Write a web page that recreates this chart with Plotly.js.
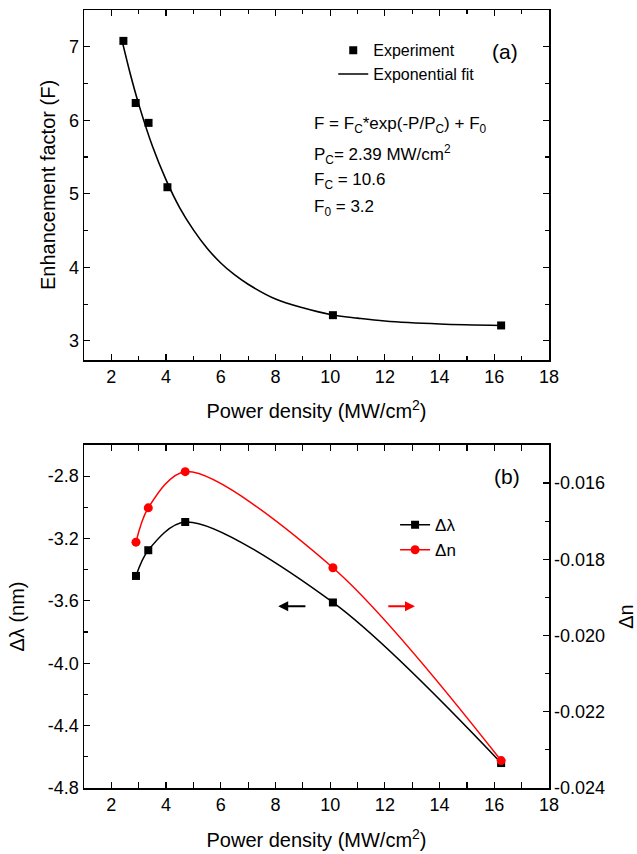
<!DOCTYPE html>
<html>
<head>
<meta charset="utf-8">
<script src="https://cdn.plot.ly/plotly-3.0.1.min.js"></script>
<style>html,body{margin:0;padding:0;background:#fff;}#chart{width:637px;height:854px;}</style>
</head>
<body>
<div id="chart"></div>
<script>
// Panel (a): experiment
const expP = [2.44, 2.89, 3.36, 4.05, 10.1, 16.25];
const expF = [7.08, 6.235, 5.965, 5.09, 3.35, 3.21];
// Panel (a): exponential fit curve
const fitP = [2.4, 2.7, 3, 3.5, 4, 4.5, 5, 5.5, 6, 6.5, 7, 8, 9, 10, 11, 12, 14, 16.25];
const fitF = [7.07, 6.62, 6.22, 5.65, 5.19, 4.81, 4.51, 4.26, 4.06, 3.90, 3.77, 3.57, 3.45, 3.36, 3.31, 3.27, 3.23, 3.21];
// Panel (b)
const bP = [2.9, 3.35, 4.7, 10.1, 16.25];
const dLambda = [-3.44, -3.275, -3.094, -3.61, -4.64];
const dN = [-0.01755, -0.01665, -0.0157, -0.01822, -0.02328];
// Tick labels
const xTicks = [2, 4, 6, 8, 10, 12, 14, 16, 18];
const xTickText = ['2', '4', '6', '8', '10', '12', '14', '16', '18'];
const fTicks = [3, 4, 5, 6, 7];
const fTickText = ['3', '4', '5', '6', '7'];
const lamTicks = [-4.8, -4.4, -4.0, -3.6, -3.2, -2.8];
const lamTickText = ['-4.8', '-4.4', '-4.0', '-3.6', '-3.2', '-2.8'];
const nTicks = [-0.024, -0.022, -0.020, -0.018, -0.016];
const nTickText = ['-0.024', '-0.022', '-0.020', '-0.018', '-0.016'];

const FONT = 'Arial, "Liberation Sans", sans-serif';
const axisBase = {
  showline: true, linecolor: '#000', linewidth: 1.5,
  ticks: 'inside', ticklen: 6, tickwidth: 1.2, tickcolor: '#000',
  showgrid: false, zeroline: false,
  tickfont: {family: FONT, size: 18, color: '#000'},
};
const titleFont = {family: FONT, size: 20, color: '#000'};
const minorX = {dtick: 1, tick0: 0, ticks: 'inside', ticklen: 4, tickcolor: '#000', showgrid: false};

const traces = [
  {x: fitP, y: fitF, type: 'scatter', mode: 'lines', line: {color: '#000', width: 1.6, shape: 'spline', smoothing: 1},
   name: 'Exponential fit', xaxis: 'x', yaxis: 'y', legend: 'legend', legendrank: 2},
  {x: expP, y: expF, type: 'scatter', mode: 'markers', marker: {symbol: 'square', size: 8, color: '#000'},
   name: 'Experiment', xaxis: 'x', yaxis: 'y', legend: 'legend', legendrank: 1},
  {x: bP, y: dLambda, type: 'scatter', mode: 'lines+markers', line: {color: '#000', width: 1.5, shape: 'spline', smoothing: 0.9},
   marker: {symbol: 'square', size: 8, color: '#000'}, name: 'Δλ', xaxis: 'x2', yaxis: 'y2', legend: 'legend2'},
  {x: bP, y: dN, type: 'scatter', mode: 'lines+markers', line: {color: '#ff0000', width: 1.5, shape: 'spline', smoothing: 0.9},
   marker: {symbol: 'circle', size: 9, color: '#ff0000'}, name: 'Δn', xaxis: 'x2', yaxis: 'y3', legend: 'legend2'},
];

const textFont = {family: FONT, size: 17, color: '#000'};
const layout = {
  width: 637, height: 854,
  margin: {l: 84, r: 88, t: 10, b: 66},
  paper_bgcolor: '#fff', plot_bgcolor: '#fff',
  showlegend: true,
  xaxis: Object.assign({}, axisBase, {
    domain: [0, 1], anchor: 'y', range: [1, 18], tickmode: 'array', tickvals: xTicks, ticktext: xTickText, mirror: 'allticks',
    minor: minorX,
    title: {text: 'Power density (MW/cm<sup>2</sup>)', font: titleFont, standoff: 18},
  }),
  yaxis: Object.assign({}, axisBase, {
    domain: [0.5501, 1], anchor: 'x', range: [2.74, 7.5], tickmode: 'array', tickvals: fTicks, ticktext: fTickText, mirror: 'allticks',
    minor: {dtick: 0.5, tick0: 0, ticks: 'inside', ticklen: 4, tickcolor: '#000', showgrid: false},
    title: {text: 'Enhancement factor (F)', font: titleFont, standoff: 8},
  }),
  xaxis2: Object.assign({}, axisBase, {
    domain: [0, 1], anchor: 'y2', range: [1, 18], tickmode: 'array', tickvals: xTicks, ticktext: xTickText, mirror: 'allticks',
    minor: minorX,
    title: {text: 'Power density (MW/cm<sup>2</sup>)', font: titleFont, standoff: 19},
  }),
  yaxis2: Object.assign({}, axisBase, {
    domain: [0, 0.4409], anchor: 'x2', range: [-4.8, -2.6], tickmode: 'array', tickvals: lamTicks, ticktext: lamTickText,
    minor: {dtick: 0.2, tick0: -4.8, ticks: 'inside', ticklen: 4, tickcolor: '#000', showgrid: false},
    title: {text: 'Δλ (nm)', font: titleFont, standoff: 18},
  }),
  yaxis3: Object.assign({}, axisBase, {
    overlaying: 'y2', side: 'right', anchor: 'x2', range: [-0.024, -0.015], tickmode: 'array', tickvals: nTicks, ticktext: nTickText,
    minor: {dtick: 0.001, tick0: -0.024, ticks: 'inside', ticklen: 4, tickcolor: '#000', showgrid: false},
    title: {text: 'Δn', font: titleFont, standoff: 19},
  }),
  legend: {
    x: 0.536, y: 0.97, xanchor: 'left', yanchor: 'top', bgcolor: 'rgba(0,0,0,0)',
    font: {family: FONT, size: 16, color: '#000'}, tracegroupgap: 0, itemwidth: 30,
  },
  legend2: {
    x: 0.669, y: 0.361, xanchor: 'left', yanchor: 'top', bgcolor: 'rgba(0,0,0,0)',
    font: {family: FONT, size: 17, color: '#000'}, tracegroupgap: 0, itemwidth: 30,
  },
  annotations: [
    {xref: 'x', yref: 'y', x: 16.4, y: 6.93, text: '(a)', showarrow: false, font: {family: FONT, size: 21, color: '#000'}},
    {xref: 'x', yref: 'y', x: 9.35, y: 5.93, xanchor: 'left', text: 'F = F<sub>C</sub>*exp(-P/P<sub>C</sub>) + F<sub>0</sub>', showarrow: false, font: textFont},
    {xref: 'x', yref: 'y', x: 9.35, y: 5.53, xanchor: 'left', text: 'P<sub>C</sub>= 2.39 MW/cm<sup>2</sup>', showarrow: false, font: textFont},
    {xref: 'x', yref: 'y', x: 9.35, y: 5.17, xanchor: 'left', text: 'F<sub>C</sub> = 10.6', showarrow: false, font: textFont},
    {xref: 'x', yref: 'y', x: 9.35, y: 4.81, xanchor: 'left', text: 'F<sub>0</sub> = 3.2', showarrow: false, font: textFont},
    {xref: 'x2', yref: 'y2', x: 16.46, y: -2.8, text: '(b)', showarrow: false, font: {family: FONT, size: 21, color: '#000'}},
    {xref: 'x2', yref: 'y2', x: 8.1, y: -3.634, axref: 'x2', ayref: 'y2', ax: 9.15, ay: -3.634, text: '', showarrow: true,
     arrowhead: 2, arrowsize: 1, arrowwidth: 2, arrowcolor: '#000'},
    {xref: 'x2', yref: 'y2', x: 13.1, y: -3.634, axref: 'x2', ayref: 'y2', ax: 12.07, ay: -3.634, text: '', showarrow: true,
     arrowhead: 2, arrowsize: 1, arrowwidth: 2, arrowcolor: '#ff0000'},
  ],
};

Plotly.newPlot('chart', traces, layout, {staticPlot: true, displayModeBar: false});
</script>
</body>
</html>
